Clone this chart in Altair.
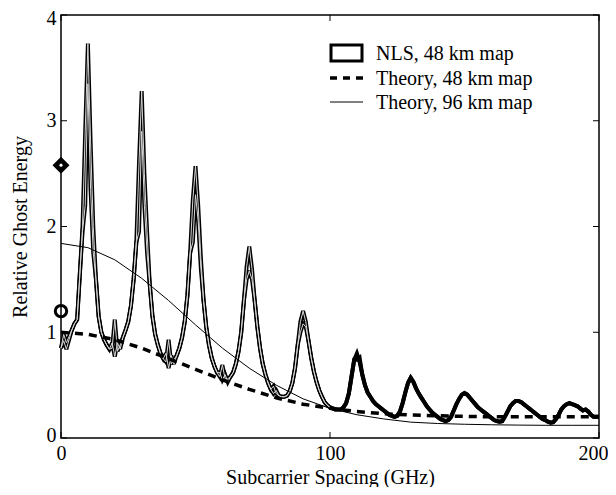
import altair as alt
import pandas as pd

# ---------------- data ----------------
nls_x = list(range(0, 201))
nls_a = [
    0.85, 0.98, 0.90, 0.96, 1.02, 1.08, 1.12, 1.55, 2.00, 2.90,   # 0-9
    3.73, 2.80, 2.00, 1.50, 1.15, 1.00, 0.93, 0.88, 0.84, 0.85,   # 10-19
    1.12, 0.82, 0.88, 0.95, 1.02, 1.10, 1.25, 1.50, 1.85, 2.60,   # 20-29
    3.28, 2.50, 1.95, 1.45, 1.15, 0.98, 0.88, 0.80, 0.75, 0.72,   # 30-39
    0.93, 0.70, 0.74, 0.78, 0.85, 0.95, 1.10, 1.35, 1.75, 2.25,   # 40-49
    2.57, 2.20, 1.70, 1.30, 1.05, 0.88, 0.76, 0.68, 0.62, 0.58,   # 50-59
    0.69, 0.56, 0.56, 0.58, 0.62, 0.70, 0.82, 1.00, 1.30, 1.62,   # 60-69
    1.81, 1.60, 1.30, 1.05, 0.85, 0.70, 0.60, 0.52, 0.46, 0.49,   # 70-79
    0.42, 0.40, 0.39, 0.39, 0.40, 0.44, 0.52, 0.66, 0.88, 1.10,   # 80-89
    1.20, 1.10, 0.92, 0.76, 0.63, 0.53, 0.45, 0.39, 0.34, 0.31,   # 90-99
    0.29, 0.28, 0.27, 0.27, 0.27, 0.29, 0.33, 0.42, 0.58, 0.74,   # 100-109
    0.80, 0.72, 0.60, 0.50, 0.43, 0.39, 0.35, 0.32, 0.30, 0.28,   # 110-119
    0.26, 0.24, 0.22, 0.21, 0.20, 0.21, 0.25, 0.33, 0.43, 0.52,   # 120-129
    0.57, 0.53, 0.47, 0.42, 0.38, 0.34, 0.30, 0.27, 0.24, 0.22,   # 130-139
    0.20, 0.18, 0.17, 0.16, 0.17, 0.20, 0.26, 0.32, 0.37, 0.41,   # 140-149
    0.425, 0.41, 0.38, 0.35, 0.32, 0.29, 0.27, 0.25, 0.23, 0.21,  # 150-159
    0.19, 0.17, 0.16, 0.155, 0.16, 0.20, 0.25, 0.30, 0.33, 0.35,  # 160-169
    0.35, 0.34, 0.32, 0.30, 0.28, 0.26, 0.24, 0.22, 0.20, 0.18,   # 170-179
    0.17, 0.155, 0.145, 0.15, 0.18, 0.22, 0.27, 0.30, 0.32, 0.33, # 180-189
    0.32, 0.31, 0.30, 0.28, 0.26, 0.27, 0.25, 0.22, 0.20, 0.20,   # 190-199
    0.20,                                                          # 200
]
# second NLS trace: same as the first except at these points
nls_b_diff = {
    1: 0.92, 2: 0.84, 3: 0.93,
    8: 1.95, 9: 2.20, 10: 3.35, 11: 2.35, 12: 1.75,
    19: 0.90, 20: 0.77, 21: 0.90, 22: 0.84,
    29: 1.95, 30: 2.90, 31: 2.20, 32: 1.75,
    39: 0.80, 40: 0.66, 41: 0.78, 42: 0.70,
    49: 1.85, 50: 2.30, 51: 2.05, 52: 1.60,
    59: 0.62, 60: 0.55, 61: 0.60, 62: 0.53,
    69: 1.50, 70: 1.58, 71: 1.50,
    79: 0.42, 80: 0.45,
    89: 1.00, 90: 1.08, 91: 1.05,
    110: 0.74, 111: 0.76,
}

theory_x = [0, 10, 20, 30, 40, 50, 60, 70, 80, 90, 100, 110, 120, 130,
            140, 150, 160, 170, 180, 190, 200]
theory48 = [1.00, 0.98, 0.93, 0.85, 0.75, 0.65, 0.55, 0.46, 0.38, 0.32,
            0.28, 0.25, 0.23, 0.217, 0.21, 0.205, 0.20, 0.20, 0.20, 0.20, 0.20]
theory96 = [1.84, 1.80, 1.685, 1.51, 1.30, 1.07, 0.85, 0.66, 0.50, 0.37,
            0.28, 0.22, 0.18, 0.15, 0.137, 0.13, 0.125, 0.122, 0.12, 0.12, 0.12]

marker_diamond_y = [2.58]
marker_circle_y = [1.20]

x_ticks = [0, 100, 200]
y_ticks = [0, 1, 2, 3, 4]
legend_labels = ["NLS, 48 km map", "Theory, 48 km map", "Theory, 96 km map"]

# ---------------- tables ----------------
nls_b = [nls_b_diff.get(x, v) for x, v in zip(nls_x, nls_a)]
df_a = pd.DataFrame({"x": nls_x, "y": nls_a})
df_b = pd.DataFrame({"x": nls_x, "y": nls_b})
df_t = pd.DataFrame({"x": theory_x, "t48": theory48, "t96": theory96})

W, H = 538, 423
FONT = "Liberation Serif"

xs = alt.Scale(domain=[0, 200], nice=False, zero=False)
ys = alt.Scale(domain=[0, 4], nice=False)
X = alt.X("x:Q", scale=xs,
          axis=alt.Axis(values=x_ticks, title="Subcarrier Spacing (GHz)",
                        grid=False, domain=False, ticks=False,
                        labelFlush=False,
                        labelAlign={"condition": {"test": "datum.value == 200",
                                                  "value": "right"},
                                    "value": "center"},
                        labelOffset={"condition": {"test": "datum.value == 200",
                                                   "value": 9},
                                     "value": 0},
                        labelPadding=5, titleBaseline="alphabetic", titleY=45,
                        format="d"))
Y = alt.Y("y:Q", scale=ys,
          axis=alt.Axis(values=y_ticks, title="Relative Ghost Energy",
                        grid=False, domain=False, ticks=False,
                        labelFlush=True, labelFlushOffset=7,
                        labelPadding=5, titlePadding=16, format="d"))

def nls_line(df, color, width, xmax=None):
    c = alt.Chart(df)
    if xmax is not None:
        c = c.transform_filter(alt.datum.x <= xmax)
    return c.mark_line(color=color, strokeWidth=width,
                       strokeJoin="miter", strokeMiterLimit=3).encode(x=X, y=Y)

black_a = nls_line(df_a, "black", 4.0)
black_b = nls_line(df_b, "black", 4.0)
core_a = nls_line(df_a, "#d8d8d8", 1.0, xmax=100)
core_b = nls_line(df_b, "#d8d8d8", 1.0, xmax=100)

t48 = alt.Chart(df_t).mark_line(color="black", strokeWidth=3.5,
                                strokeDash=[8, 6]).encode(
    x=alt.X("x:Q", scale=xs), y=alt.Y("t48:Q", scale=ys))
t96 = alt.Chart(df_t).mark_line(color="black", strokeWidth=1).encode(
    x=alt.X("x:Q", scale=xs), y=alt.Y("t96:Q", scale=ys))

diamond = alt.Chart(pd.DataFrame({"x": [0], "y": marker_diamond_y})).mark_point(
    shape="diamond", filled=True, color="black", size=290, opacity=1).encode(
    x=alt.X("x:Q", scale=xs), y=alt.Y("y:Q", scale=ys))
diamond_dot = alt.Chart(pd.DataFrame({"x": [0], "y": marker_diamond_y})).mark_point(
    shape="circle", filled=True, color="white", size=10, opacity=1).encode(
    x=alt.X("x:Q", scale=xs), y=alt.Y("y:Q", scale=ys))
circle = alt.Chart(pd.DataFrame({"x": [0], "y": marker_circle_y})).mark_point(
    shape="circle", filled=False, color="black", size=130, strokeWidth=3,
    opacity=1).encode(x=alt.X("x:Q", scale=xs), y=alt.Y("y:Q", scale=ys))

# inward ticks
dfx = pd.DataFrame({"x": x_ticks})
dfy = pd.DataFrame({"y": y_ticks})
tick_b = alt.Chart(dfx).mark_rule(color="black", strokeWidth=1).encode(
    x=alt.X("x:Q", scale=xs), y=alt.value(H), y2=alt.value(H - 6))
tick_t = alt.Chart(dfx).mark_rule(color="black", strokeWidth=1).encode(
    x=alt.X("x:Q", scale=xs), y=alt.value(0), y2=alt.value(6))
tick_l = alt.Chart(dfy).mark_rule(color="black", strokeWidth=1).encode(
    y=alt.Y("y:Q", scale=ys), x=alt.value(0), x2=alt.value(6))
tick_r = alt.Chart(dfy).mark_rule(color="black", strokeWidth=1).encode(
    y=alt.Y("y:Q", scale=ys), x=alt.value(W), x2=alt.value(W - 6))

# legend (drawn by hand)
one = pd.DataFrame({"k": [0]})
leg_rect = alt.Chart(one).mark_rect(fill="white", stroke="black",
                                    strokeWidth=3).encode(
    x=alt.value(270), x2=alt.value(301), y=alt.value(30), y2=alt.value(46))
leg_dash = alt.Chart(one).mark_rule(color="black", strokeWidth=3.5,
                                    strokeDash=[7, 6]).encode(
    x=alt.value(269), x2=alt.value(302), y=alt.value(63))
leg_thin = alt.Chart(one).mark_rule(color="black", strokeWidth=1).encode(
    x=alt.value(269), x2=alt.value(302), y=alt.value(87))
leg_texts = [
    alt.Chart(one).mark_text(align="left", baseline="middle", font=FONT,
                             fontSize=20, color="black").encode(
        x=alt.value(315), y=alt.value(yy), text=alt.value(lbl))
    for lbl, yy in zip(legend_labels, [39, 64, 88])
]

chart = alt.layer(
    black_a, black_b, core_a, core_b, t48, t96,
    tick_b, tick_t, tick_l, tick_r,
    diamond, diamond_dot, circle,
    leg_rect, leg_dash, leg_thin, *leg_texts,
).properties(
    width=W, height=H,
    padding={"left": 53, "top": 7, "right": 9, "bottom": 49},
    autosize=alt.AutoSizeParams(type="none"),
).configure_view(
    stroke="black", strokeWidth=1.5
).configure_axis(
    labelFont=FONT, titleFont=FONT, labelFontSize=20, titleFontSize=20,
    titleFontWeight="normal", labelColor="black", titleColor="black",
)

chart.save("out.html", embed_options={"renderer": "svg", "actions": False})
